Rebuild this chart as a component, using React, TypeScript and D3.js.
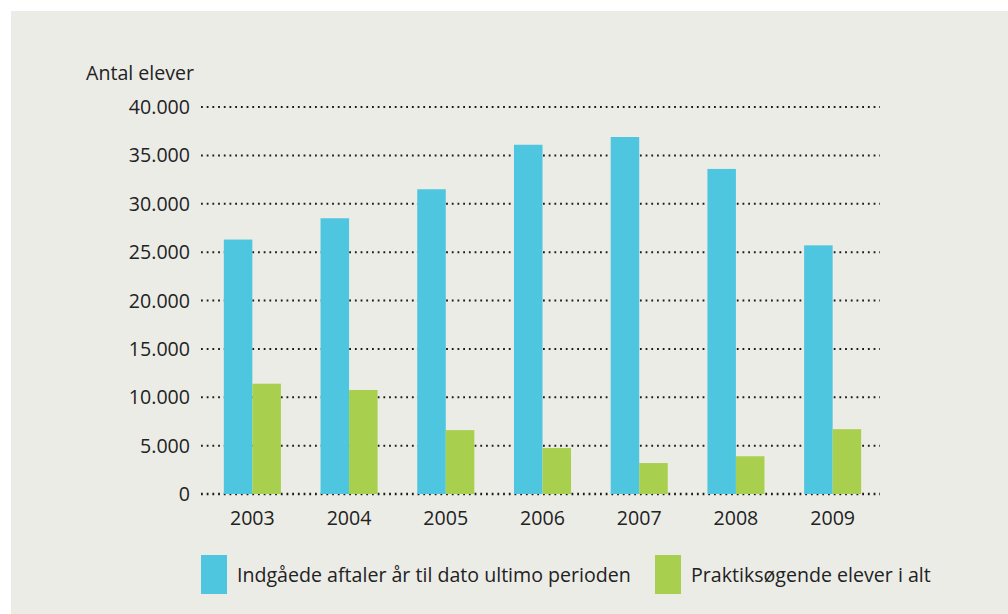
import React, {useEffect, useRef} from 'react'
import * as d3 from 'd3'

const years = ['2003', '2004', '2005', '2006', '2007', '2008', '2009']
const indgaaede = [26300, 28500, 31500, 36100, 36900, 33600, 25700]
const praktiksoegende = [11400, 10750, 6600, 4750, 3200, 3900, 6700]
const yTicks = [0, 5000, 10000, 15000, 20000, 25000, 30000, 35000, 40000]
const seriesNames = ['Indgåede aftaler år til dato ultimo perioden', 'Praktiksøgende elever i alt']
const colors = ['#4fc6df', '#a8cf4e']

function App() {
    const chartRef = useRef(null)

    useEffect(() => {
        drawChart()
    }, [])

    function drawChart() {
        const width = 1008, height = 614
        const font = '"Open Sans", "Noto Sans", sans-serif'
        const fontSize = 19.6

        d3.select(chartRef.current).selectAll('*').remove()

        const svg = d3.select(chartRef.current)
            .append('svg')
            .attr('width', width)
            .attr('height', height)
            .style('display', 'block')

        // grey panel
        svg.append('rect')
            .attr('x', 11).attr('y', 11)
            .attr('width', width - 11).attr('height', height - 11)
            .attr('fill', '#ecece7')

        const y = d3.scaleLinear()
            .domain([0, 40000])
            .range([494, 107])

        const x = d3.scaleBand()
            .domain(years)
            .range([204, 881])
            .paddingInner(0.41)
            .paddingOuter(0.205)

        const x1 = d3.scaleBand()
            .domain(['a', 'b'])
            .range([0, x.bandwidth()])

        const fmt = (v) => d3.format(',')(v).replace(/,/g, '.')

        // gridlines
        svg.append('g')
            .selectAll('line')
            .data(yTicks)
            .enter()
            .append('line')
            .attr('x1', 201)
            .attr('x2', 880)
            .attr('y1', d => y(d))
            .attr('y2', d => y(d))
            .attr('stroke', '#1a1a1a')
            .attr('stroke-width', d => d === 0 ? 2.6 : 2)
            .attr('stroke-dasharray', '1.8,3.9')

        // y labels
        svg.append('g')
            .selectAll('text')
            .data(yTicks)
            .enter()
            .append('text')
            .attr('x', 190)
            .attr('y', d => y(d) + 7)
            .attr('text-anchor', 'end')
            .attr('font-family', font)
            .attr('font-size', fontSize)
            .attr('fill', '#222')
            .text(d => fmt(d))

        svg.append('text')
            .attr('x', 86)
            .attr('y', 80)
            .attr('font-family', font)
            .attr('font-size', fontSize)
            .attr('fill', '#222')
            .text('Antal elever')

        // bars
        const groups = svg.append('g')
            .selectAll('g')
            .data(years)
            .enter()
            .append('g')
            .attr('transform', d => 'translate(' + x(d) + ',0)')

        groups.append('rect')
            .attr('x', x1('a'))
            .attr('width', x1.bandwidth())
            .attr('y', (d, i) => y(indgaaede[i]))
            .attr('height', (d, i) => y(0) - y(indgaaede[i]))
            .attr('fill', colors[0])

        groups.append('rect')
            .attr('x', x1('b'))
            .attr('width', x1.bandwidth())
            .attr('y', (d, i) => y(praktiksoegende[i]))
            .attr('height', (d, i) => y(0) - y(praktiksoegende[i]))
            .attr('fill', colors[1])

        // x labels
        svg.append('g')
            .selectAll('text')
            .data(years)
            .enter()
            .append('text')
            .attr('x', d => x(d) + x.bandwidth() / 2)
            .attr('y', 525)
            .attr('text-anchor', 'middle')
            .attr('font-family', font)
            .attr('font-size', fontSize)
            .attr('fill', '#222')
            .text(d => d)

        // legend
        const legendX = [201, 655]
        const legend = svg.append('g')
            .selectAll('g')
            .data(seriesNames)
            .enter()
            .append('g')
            .attr('transform', (d, i) => 'translate(' + legendX[i] + ',555)')

        legend.append('rect')
            .attr('width', 26)
            .attr('height', 39)
            .attr('fill', (d, i) => colors[i])

        legend.append('text')
            .attr('x', 36)
            .attr('y', 27)
            .attr('font-family', font)
            .attr('font-size', fontSize)
            .attr('fill', '#222')
            .text(d => d)
    }

    return (
        <div style={{position: 'absolute', left: 0, top: 0}}>
            <div ref={chartRef}></div>
        </div>
    )
}

export default App
